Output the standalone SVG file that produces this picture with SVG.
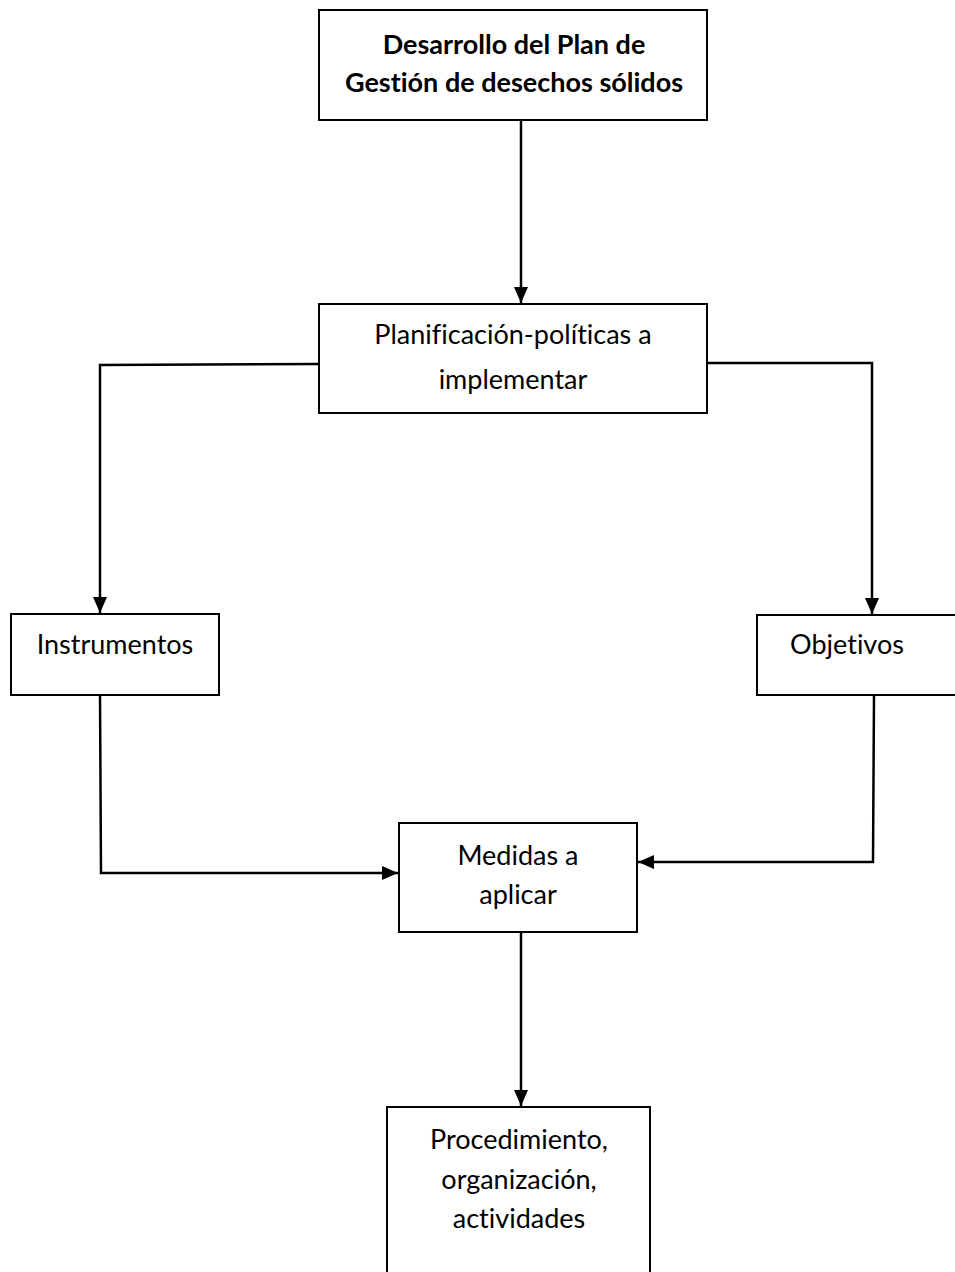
<svg xmlns="http://www.w3.org/2000/svg" width="955" height="1272" viewBox="0 0 955 1272">
  <style>
    .box { fill: #ffffff; stroke: #000000; stroke-width: 2; }
    .lbl { font-family: Lato, "Open Sans", "Liberation Sans", sans-serif; font-size: 27px; fill: #000000; text-anchor: middle; font-variant-ligatures: none; }
    .bold { font-weight: bold; font-size: 27px; }
    .wire { fill: none; stroke: #000000; stroke-width: 2.5; }
  </style>
  <defs>
    <marker id="arrow" viewBox="0 0 16 14" refX="16" refY="7" markerWidth="16" markerHeight="14" orient="auto" markerUnits="userSpaceOnUse">
      <path d="M0,0 L16,7 L0,14 Z" fill="#000000"/>
    </marker>
  </defs>
  <rect width="955" height="1272" fill="#ffffff"/>

  <g id="connectors">
    <path class="wire" d="M521,120 V303" marker-end="url(#arrow)"/>
    <path class="wire" d="M319,364 L100,365 V613" marker-end="url(#arrow)"/>
    <path class="wire" d="M707,363 H872 V614" marker-end="url(#arrow)"/>
    <path class="wire" d="M100,695 L101,873 H398" marker-end="url(#arrow)"/>
    <path class="wire" d="M874,695 L873,862 H638" marker-end="url(#arrow)"/>
    <path class="wire" d="M521,932 V1106" marker-end="url(#arrow)"/>
  </g>

  <g id="node-plan">
    <rect class="box" x="319" y="10" width="388" height="110"/>
    <text class="lbl bold" x="514" y="54">Desarrollo del Plan de</text>
    <text class="lbl bold" x="514" y="92">Gestión de desechos sólidos</text>
  </g>

  <g id="node-planificacion">
    <rect class="box" x="319" y="304" width="388" height="109"/>
    <text class="lbl" x="513" y="344">Planificación-políticas a</text>
    <text class="lbl" x="513" y="389">implementar</text>
  </g>

  <g id="node-instrumentos">
    <rect class="box" x="11" y="614" width="208" height="81"/>
    <text class="lbl" x="115" y="654">Instrumentos</text>
  </g>

  <g id="node-objetivos">
    <rect class="box" x="757" y="615" width="200" height="80"/>
    <text class="lbl" x="847" y="654">Objetivos</text>
  </g>

  <g id="node-medidas">
    <rect class="box" x="399" y="823" width="238" height="109"/>
    <text class="lbl" x="518" y="865">Medidas a</text>
    <text class="lbl" x="518" y="904">aplicar</text>
  </g>

  <g id="node-procedimiento">
    <rect class="box" x="387" y="1107" width="263" height="170"/>
    <text class="lbl" x="519" y="1149">Procedimiento,</text>
    <text class="lbl" x="519" y="1189">organización,</text>
    <text class="lbl" x="519" y="1228">actividades</text>
  </g>
</svg>
